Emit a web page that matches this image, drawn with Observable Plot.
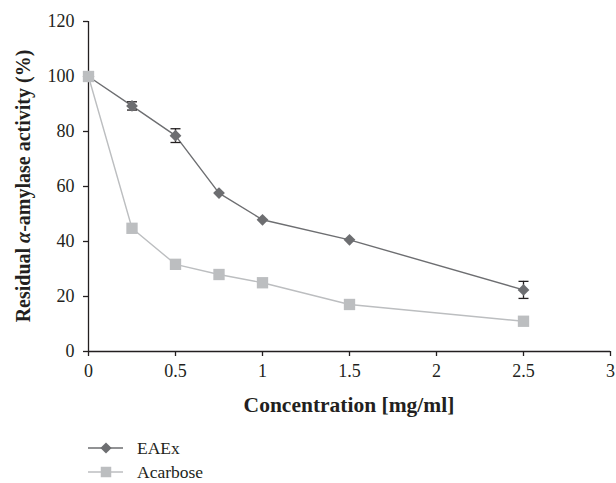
<!DOCTYPE html>
<html>
<head>
<meta charset="utf-8">
<script src="https://cdn.jsdelivr.net/npm/d3@7"></script>
<script src="https://cdn.jsdelivr.net/npm/@observablehq/plot@0.6"></script>
<style>
  body { margin: 0; background: #fff; font-family: "Liberation Serif", serif; overflow: hidden; }
  #chart { position: relative; width: 616px; height: 483px; }
  .legend { position: absolute; left: 88px; top: 440px; font-size: 17.5px; line-height: 16px; color: #231f20; }
  .legend .row { display: flex; align-items: center; height: 16px; }
  .legend .row + .row { margin-top: 8px; }
  .legend svg { margin-right: 14px; }
</style>
</head>
<body>
<div id="chart"></div>
<script>
// Data
const concentrations = [0, 0.25, 0.5, 0.75, 1, 1.5, 2.5];
const eaex = [100, 89.3, 78.5, 57.6, 47.9, 40.6, 22.4];
const eaexErr = [0, 1.5, 2.5, 0, 0, 0, 3.1];
const acarbose = [100, 44.8, 31.7, 28.0, 25.0, 17.1, 11.0];
const seriesNames = ["EAEx", "Acarbose"];
const xTicks = [0, 0.5, 1, 1.5, 2, 2.5, 3];
const yTicks = [0, 20, 40, 60, 80, 100, 120];

const colors = {EAEx: "#6d6e71", Acarbose: "#bcbec0"};
const ink = "#231f20";

const eaexData = concentrations.map((c, i) => ({x: c, y: eaex[i], e: eaexErr[i]}));
const acData = concentrations.map((c, i) => ({x: c, y: acarbose[i]}));
const errData = eaexData.filter(d => d.e > 0);

const capSymbol = {
  draw(context, size) {
    context.moveTo(-5, 0);
    context.lineTo(5, 0);
  }
};

const plot = Plot.plot({
  width: 616,
  height: 436,
  marginLeft: 88,
  marginRight: 6,
  marginTop: 21,
  marginBottom: 85,
  style: {fontFamily: "Liberation Serif, serif", fontSize: "18px", color: ink, background: "transparent"},
  x: {domain: [0, 3], ticks: xTicks, label: null},
  y: {domain: [0, 120], ticks: yTicks, label: null},
  marks: [
    Plot.axisX({ticks: xTicks, tickFormat: d => String(d), tickSize: 5, tickPadding: 8, stroke: ink, strokeWidth: 1.3, fontSize: 18, label: null}),
    Plot.axisY({ticks: yTicks, tickFormat: d => String(d), tickSize: 5, tickPadding: 9, stroke: ink, strokeWidth: 1.3, fontSize: 18, label: null}),
    Plot.ruleX([0], {stroke: ink, strokeWidth: 1.3}),
    Plot.ruleY([0], {stroke: ink, strokeWidth: 1.3}),
    Plot.line(acData, {x: "x", y: "y", stroke: colors.Acarbose, strokeWidth: 1.4}),
    Plot.line(eaexData, {x: "x", y: "y", stroke: colors.EAEx, strokeWidth: 1.4}),
    Plot.ruleX(errData, {x: "x", y1: d => d.y - d.e, y2: d => d.y + d.e, stroke: ink, strokeWidth: 1.3}),
    Plot.dot(errData, {x: "x", y: d => d.y - d.e, symbol: capSymbol, stroke: ink, strokeWidth: 1.3}),
    Plot.dot(errData, {x: "x", y: d => d.y + d.e, symbol: capSymbol, stroke: ink, strokeWidth: 1.3}),
    Plot.dot(eaexData, {x: "x", y: "y", symbol: "diamond2", r: 5.3, fill: colors.EAEx, stroke: "none"}),
    Plot.dot(acData, {x: "x", y: "y", symbol: "square", r: 6.4, fill: colors.Acarbose, stroke: "none"})
  ]
});

const svg = d3.select(plot);
svg.append("text")
  .attr("x", 349)
  .attr("y", 407)
  .attr("text-anchor", "middle")
  .attr("dominant-baseline", "middle")
  .attr("font-weight", "bold")
  .attr("font-size", 21.5)
  .attr("fill", ink)
  .text("Concentration [mg/ml]");

const yl = svg.append("text")
  .attr("transform", "translate(25,186) rotate(-90)")
  .attr("text-anchor", "middle")
  .attr("dominant-baseline", "middle")
  .attr("font-weight", "bold")
  .attr("font-size", 20)
  .attr("fill", ink);
yl.append("tspan").text("Residual ");
yl.append("tspan").attr("font-style", "italic").text("α");
yl.append("tspan").text("-amylase activity (%)");

const chart = document.getElementById("chart");
chart.appendChild(plot);

// Legend
const legend = document.createElement("div");
legend.className = "legend";
const symbolPaths = {
  EAEx: d3.symbol(d3.symbolDiamond2, 80)(),
  Acarbose: d3.symbol(d3.symbolSquare, 110)()
};
seriesNames.forEach(name => {
  const row = document.createElement("div");
  row.className = "row";
  const s = d3.create("svg").attr("width", 35).attr("height", 14);
  s.append("line").attr("x1", 0).attr("x2", 35).attr("y1", 7).attr("y2", 7)
    .attr("stroke", colors[name]).attr("stroke-width", 1.4);
  s.append("path").attr("d", symbolPaths[name]).attr("transform", "translate(18,7)")
    .attr("fill", colors[name]);
  row.appendChild(s.node());
  const t = document.createElement("span");
  t.textContent = name;
  row.appendChild(t);
  legend.appendChild(row);
});
chart.appendChild(legend);
</script>
</body>
</html>
